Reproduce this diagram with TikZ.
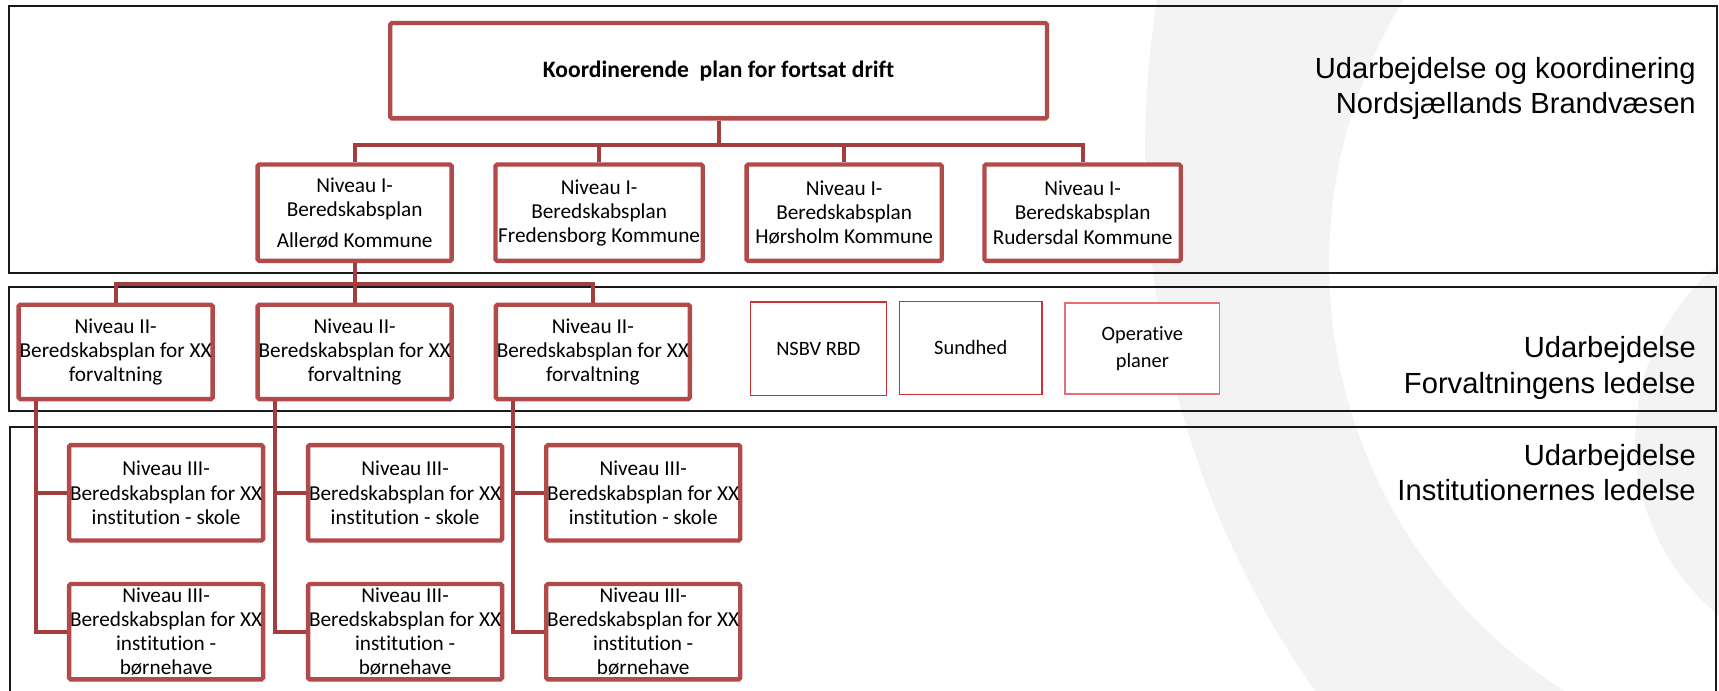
\documentclass[tikz,border=0pt]{standalone}
\usepackage{fontspec}
\setmainfont{Carlito}[Ligatures=NoCommon]
\newfontfamily\arialfont{Liberation Sans}
\usepackage{tikz}

\definecolor{boxred}{RGB}{178,74,74}
\definecolor{linkred}{RGB}{162,62,62}
\definecolor{thinred}{RGB}{208,48,52}
\definecolor{palered}{RGB}{226,112,116}
\definecolor{logogray}{RGB}{243,243,243}
\definecolor{bandline}{RGB}{25,25,25}

\tikzset{
  planbox/.style={draw=boxred, line width=4pt, rounded corners=1.5pt, fill=white,
    inner sep=0pt, align=center, font=\fontsize{19.4}{22}\selectfont},
  smallbox/.style={draw=thinred, line width=1.3pt, fill=white, inner sep=0pt,
    align=center, font=\fontsize{18.6}{24}\selectfont},
  link/.style={draw=linkred, line width=3.6pt},
  band/.style={draw=bandline, line width=1.8pt},
  sidelabel/.style={anchor=east, align=right, inner sep=0pt,
    font=\arialfont\fontsize{26.6}{32}\selectfont},
}

\begin{document}
\begin{tikzpicture}[x=1pt, y=-1pt]
    \useasboundingbox (0,0) rectangle (1568,630);

    % Logo in the background
    \begin{scope}
        \clip (0,0) rectangle (1568,630);
        \fill[logogray, even odd rule] (1907.4,136.8) circle (862.9) (1673,240.8) circle (460.6);
        \fill[logogray] (1697.5,401.3) circle (206);
    \end{scope}

    % The three bands
    \draw[band] (8.5,5.5) rectangle (1566,248.7);
    \draw[band] (8.5,261.5) rectangle (1565,374.6);
    \draw[band] (9,389.5) rectangle (1565,640);

    % Coordinating plan
    \node[planbox, minimum width=599pt, minimum height=87pt,
          font=\bfseries\fontsize{21.5}{26}\selectfont] (top) at (655.5,64.5) {Koordinerende~~plan for fortsat drift};

    % Level I
    \foreach \i/\x/\w/\t in {1/323.5/177/{Niveau I-\\Beredskabsplan\\[6pt]Allerød Kommune},
                             2/546.5/189/{Niveau I-\\Beredskabsplan\\Fredensborg Kommune},
                             3/770/178/{Niveau I-\\Beredskabsplan\\Hørsholm Kommune},
                             4/987.5/179/{Niveau I-\\Beredskabsplan\\Rudersdal Kommune}} {
        \node[planbox, minimum width=\w pt, minimum height=88pt] (kom\i) at (\x,194) {\t};
    }

    % Level II and III
    \foreach \i/\x in {1/105.5, 2/323.5, 3/540.75} {
        \node[planbox, minimum width=177pt, minimum height=86pt] (forv\i) at (\x,321)
            {Niveau II-\\Beredskabsplan for XX\\forvaltning};
        \node[planbox, minimum width=177pt, minimum height=87pt] (skole\i) at (\x+46,449.5)
            {Niveau III-\\Beredskabsplan for XX\\institution - skole};
        \node[planbox, minimum width=177pt, minimum height=87pt] (bh\i) at (\x+46,576.2)
            {Niveau III-\\Beredskabsplan for XX\\institution -\\børnehave};
    }

    % Other plans
    \node[smallbox, minimum width=124pt, minimum height=85pt] (nsbv) at (746.5,318) {NSBV RBD};
    \node[smallbox, minimum width=130pt, minimum height=85pt] (sundhed) at (885.5,317.3) {Sundhed};
    \node[smallbox, draw=palered, minimum width=141pt, minimum height=83pt] (operativ) at (1042,318) {Operative\\planer};

    % Connectors
    \foreach \i in {1,...,4} {
        \draw[link] (top.south) -- ++(0,22) -| (kom\i.north);
    }
    \foreach \i in {1,2,3} {
        \draw[link] (kom1.south) -- ++(0,19) -| (forv\i.north);
        \coordinate (trunk\i) at ([xshift=17.5pt]forv\i.south west);
        \draw[link] (trunk\i) |- (bh\i.west);
        \draw[link] (trunk\i |- skole\i.west) -- (skole\i.west);
    }

    % Who prepares what
    \node[sidelabel] (lbltop) at (1547,80.4) {Udarbejdelse og koordinering\\Nordsjællands Brandvæsen};
    \node[sidelabel] (lblforv) at (1547,335.6) {Udarbejdelse\\Forvaltningens ledelse};
    \node[sidelabel] (lblinst) at (1547,431) {Udarbejdelse\\Institutionernes ledelse};
\end{tikzpicture}
\end{document}
